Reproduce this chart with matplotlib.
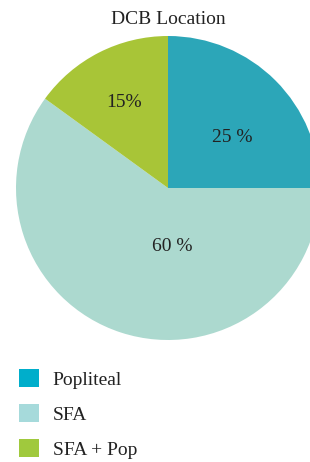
import matplotlib
matplotlib.use("Agg")
import matplotlib.pyplot as plt
from matplotlib.patches import Patch

# slice data, clockwise from 12 o'clock
labels = ["Popliteal", "SFA", "SFA + Pop"]
shares = [25, 60, 15]
slice_text = ["25 %", "60 %", "15%"]
pie_colors = ["#2ca6b8", "#acd9cf", "#a8c537"]
legend_colors = ["#00aecb", "#a6dadb", "#a0c93d"]

plt.rcParams["font.family"] = ["Liberation Serif", "DejaVu Serif"]
FS = 14

fig = plt.figure(figsize=(3.10, 4.62), dpi=100)
ax = fig.add_axes([16 / 310, 1 - 340 / 462, 304 / 310, 304 / 462])

wedges, _ = ax.pie(shares, colors=pie_colors, startangle=90, counterclock=False,
                   radius=1.0)
# label spots inside each wedge (data units, pie radius 1)
label_pos = [(0.42, 0.33), (0.03, -0.385), (-0.29, 0.56)]
for (x, y), s in zip(label_pos, slice_text):
    ax.text(x, y, s, ha="center", va="center", fontsize=FS, color="#222222")
ax.set_xlim(-1, 1)
ax.set_ylim(-1, 1)
ax.set_aspect("equal")
ax.axis("off")

fig.text(168 / 310, 1 - 19 / 462, "DCB Location", ha="center", va="center",
         fontsize=FS, color="#222222")

handles = [Patch(facecolor=c, edgecolor="none") for c in legend_colors]
fig.legend(handles, labels, loc="upper left", bbox_to_anchor=(0.06, 1 - 369 / 462),
           frameon=False, fontsize=FS, handlelength=1.05, handleheight=1.05,
           labelspacing=0.8, handletextpad=0.7, borderaxespad=0, borderpad=0,
           labelcolor="#222222")

fig.savefig("out.png", dpi=100)
